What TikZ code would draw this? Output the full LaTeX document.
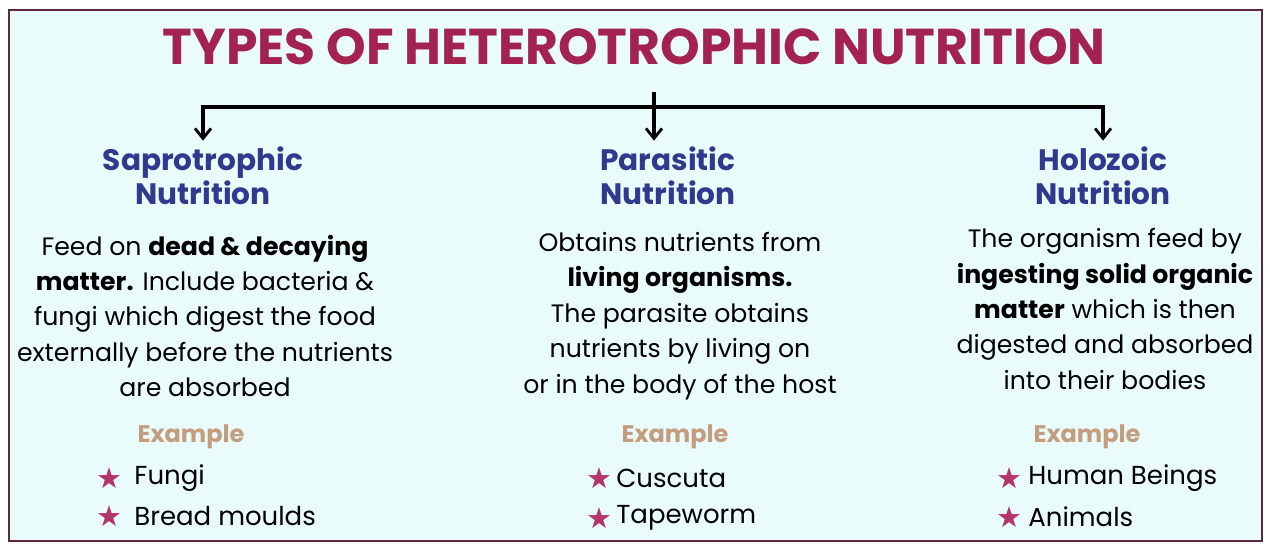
\documentclass[tikz,border=0pt]{standalone}
\usepackage{fontspec}
\setmainfont{Poppins}
\newfontfamily\symfont{DejaVu Sans}
\usetikzlibrary{arrows.meta}
\definecolor{bgcyan}{HTML}{EAFBFC}
\definecolor{framec}{HTML}{5A2A38}
\definecolor{titlec}{HTML}{A3224F}
\definecolor{headc}{HTML}{2F3A8E}
\definecolor{examc}{HTML}{C39E7E}
\definecolor{starc}{HTML}{B4346C}
\tikzset{
  arr/.style={line width=1.6pt, -{Straight Barb[length=5pt,width=8pt,line width=1.4pt]}},
  plain/.style={line width=1.6pt},
  titlebox/.style={font=\bfseries\fontsize{25.2}{28}\selectfont, text=titlec, inner sep=0pt},
  headbox/.style={font=\bfseries\fontsize{14.8}{17}\selectfont, text=headc, align=center, inner sep=3pt},
  bodybox/.style={font=\fontsize{12.6}{17.7}\selectfont, align=center, inner sep=0pt},
  exbox/.style={font=\bfseries\fontsize{12}{13}\selectfont, text=examc, inner sep=0pt},
  starbox/.style={font=\symfont\fontsize{14.5}{14}\selectfont, text=starc, inner sep=0pt},
  itembox/.style={font=\fontsize{13}{14}\selectfont, anchor=west, inner sep=0pt},
}
\begin{document}
\begin{tikzpicture}[x=0.5pt,y=-0.5pt]
\useasboundingbox (0,0) rectangle (1270,543);
\fill[white] (0,0) rectangle (1270,543);
\draw[framec, line width=1.2pt, fill=bgcyan] (9,10) rectangle (1262,541);

\node[titlebox] (title) at (634,47) {TYPES OF HETEROTROPHIC NUTRITION};

\coordinate (top) at (654,92);
\coordinate (j) at (654,107);

\node[headbox] (h1) at (203,176) {Saprotrophic\\Nutrition};
\node[headbox] (h2) at (668,176) {Parasitic\\Nutrition};
\node[headbox] (h3) at (1103,176) {Holozoic\\Nutrition};

\draw[plain] (top) -- (j);
\draw[arr] (j) -| (h1.north);
\draw[arr] (j) -| (h3.north);
\draw[arr] (top) -- (top |- h2.north);

\node[bodybox] (b1) at (205,316) {Feed on \textbf{dead \& decaying}\\\textbf{matter.} Include bacteria \&\\fungi which digest the food\\externally before the nutrients\\are absorbed};
\node[bodybox] (b2) at (680,316) {Obtains nutrients from\\\textbf{living organisms.}\\The parasite obtains\\nutrients by living on\\or in the body of the host};
\node[bodybox] (b3) at (1105,309) {The organism feed by\\\textbf{ingesting solid organic}\\\textbf{matter} which is then\\digested and absorbed\\into their bodies};

\node[exbox] (e1) at (191,437) {Example};
\node[exbox] (e2) at (675,437) {Example};
\node[exbox] (e3) at (1087,437) {Example};

\node[starbox] (s11) at (109,478) {★};
\node[itembox] (i11) at (134,478) {Fungi};
\node[starbox] (s12) at (109,516) {★};
\node[itembox] (i12) at (134,516) {Bread moulds};

\node[starbox] (s21) at (599,478) {★};
\node[itembox] (i21) at (616,478) {Cuscuta};
\node[starbox] (s22) at (599,518) {★};
\node[itembox] (i22) at (616,518) {Tapeworm};

\node[starbox] (s31) at (1009,478) {★};
\node[itembox] (i31) at (1028,478) {Human Beings};
\node[starbox] (s32) at (1009,517) {★};
\node[itembox] (i32) at (1028,517) {Animals};
\end{tikzpicture}
\end{document}
